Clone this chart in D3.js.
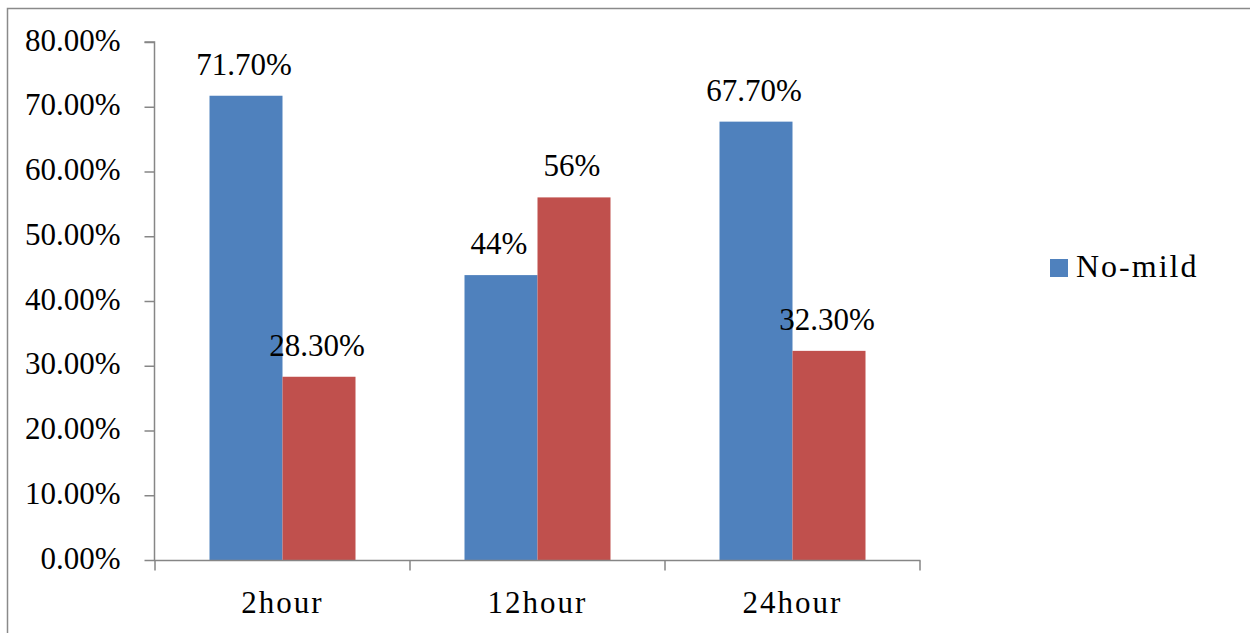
<!DOCTYPE html>
<html>
<head>
<meta charset="utf-8">
<script src="https://cdn.jsdelivr.net/npm/d3@7"></script>
</head>
<body style="margin:0;background:#fff">
<svg id="chart" width="1250" height="633" style="display:block"></svg>
<script>
// Time points on the x axis
const categories = ["2hour", "12hour", "24hour"];
// Series shown as paired bars
const seriesNames = ["No-mild", "Moderate-severe"];
const noMild = [71.7, 44, 67.7];
const moderateSevere = [28.3, 56, 32.3];
// Labels printed above each bar
const noMildLabels = ["71.70%", "44%", "67.70%"];
const moderateSevereLabels = ["28.30%", "56%", "32.30%"];
// Y axis ticks
const yTicks = [0, 10, 20, 30, 40, 50, 60, 70, 80];
// Only the first series appears in the legend
const legendNames = ["No-mild"];

const colors = { "No-mild": "#4F81BD", "Moderate-severe": "#C0504D" };
const axisColor = "#868686";
const FONT = '"Liberation Serif", "Tinos", serif';

const svg = d3.select("#chart");

// Outer frame (right and bottom edges fall outside the canvas)
svg.append("rect")
  .attr("x", 7.5).attr("y", 8.5)
  .attr("width", 1300).attr("height", 700)
  .attr("fill", "none")
  .attr("stroke", "#8a8a8a")
  .attr("stroke-width", 1.5);

const x0 = d3.scaleBand().domain(categories).range([155, 920]).padding(0);
const x1 = d3.scaleBand().domain(seriesNames).range([0, x0.bandwidth()])
  .paddingInner(0).paddingOuter(0.7466);
const y = d3.scaleLinear().domain([0, 80]).range([560, 42]);

const rows = categories.map((c, i) => ({
  cat: c,
  bars: [
    { series: seriesNames[0], value: noMild[i], label: noMildLabels[i] },
    { series: seriesNames[1], value: moderateSevere[i], label: moderateSevereLabels[i] }
  ]
}));

// Y axis
const yAxis = svg.append("g")
  .attr("transform", "translate(154.5,0)")
  .call(d3.axisLeft(y).tickValues(yTicks).tickSize(10).tickPadding(24)
    .tickFormat(d => d.toFixed(2) + "%"));
yAxis.select(".domain").attr("stroke", axisColor).attr("stroke-width", 1.5)
  .attr("d", `M-10,${y(80)}H0V${y(0)}`);
yAxis.selectAll(".tick line").attr("stroke", axisColor).attr("stroke-width", 1.5);
yAxis.selectAll(".tick text")
  .attr("font-family", FONT).attr("dy", "0.26em")
  .style("font-family", FONT).style("font-size", "31px").style("fill", "#000");

// Bars
const groups = svg.append("g").selectAll("g")
  .data(rows).join("g")
  .attr("transform", d => `translate(${x0(d.cat)},0)`);

groups.selectAll("rect")
  .data(d => d.bars).join("rect")
  .attr("x", d => x1(d.series))
  .attr("width", x1.bandwidth())
  .attr("y", d => y(d.value))
  .attr("height", d => y(0) - y(d.value))
  .attr("fill", d => colors[d.series]);

groups.selectAll("text.val")
  .data(d => d.bars).join("text")
  .attr("class", "val")
  .attr("x", d => x1(d.series) + x1.bandwidth() / 2 - 2)
  .attr("y", d => y(d.value) - 21)
  .attr("text-anchor", "middle")
  .attr("font-family", FONT)
  .style("font-family", FONT).style("font-size", "31px").style("fill", "#000")
  .text(d => d.label);

// X axis
const xAxis = svg.append("g")
  .attr("transform", "translate(0,560.5)")
  .call(d3.axisBottom(x0).tickSize(0).tickPadding(30));
xAxis.select(".domain").remove();
xAxis.selectAll(".tick text")
  .attr("font-family", FONT)
  .style("font-family", FONT).style("font-size", "31px")
  .style("letter-spacing", "2px").style("fill", "#000");

const bounds = categories.map(c => x0(c)).concat([x0(categories[categories.length - 1]) + x0.bandwidth()]);
xAxis.append("line")
  .attr("x1", 154).attr("x2", 920.5)
  .attr("y1", 0).attr("y2", 0)
  .attr("stroke", axisColor).attr("stroke-width", 1.5);
xAxis.selectAll("line.sep")
  .data(bounds).join("line")
  .attr("class", "sep")
  .attr("x1", d => d).attr("x2", d => d)
  .attr("y1", 0).attr("y2", 10)
  .attr("stroke", axisColor).attr("stroke-width", 1.5);

// Legend
const legend = svg.append("g").attr("transform", "translate(1050,259)");
legend.selectAll("rect")
  .data(legendNames).join("rect")
  .attr("x", 0).attr("y", 0).attr("width", 18).attr("height", 18)
  .attr("fill", d => colors[d]);
legend.selectAll("text")
  .data(legendNames).join("text")
  .attr("x", 26).attr("y", 18)
  .attr("font-family", FONT)
  .style("font-family", FONT).style("font-size", "32px")
  .style("letter-spacing", "2px").style("fill", "#000")
  .text(d => d);
</script>
</body>
</html>
